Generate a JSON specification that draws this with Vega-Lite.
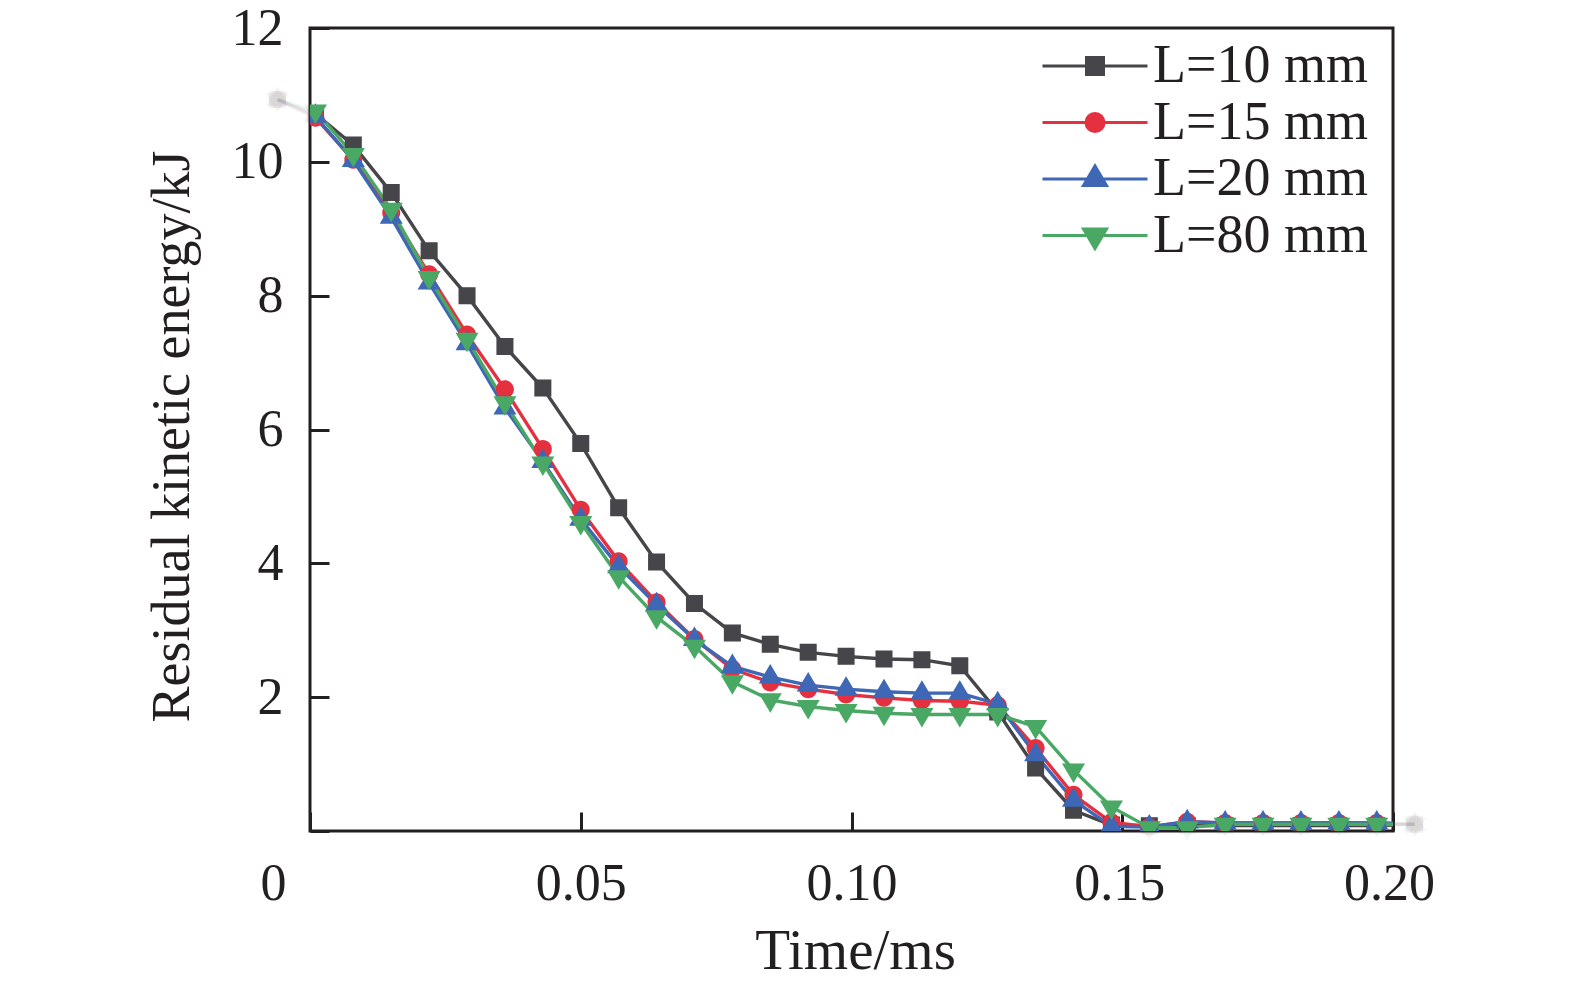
{
  "$schema": "https://vega.github.io/schema/vega-lite/v6.json",
  "width": 1083,
  "height": 803,
  "autosize": {"type": "none"},
  "padding": {"left": 310, "top": 28, "right": 182, "bottom": 157},
  "background": "white",
  "config": {
    "view": {"stroke": "#231f20", "strokeWidth": 3},
    "font": "Liberation Serif",
    "axis": {
      "labelFont": "Liberation Serif",
      "titleFont": "Liberation Serif",
      "labelFontSize": 52,
      "titleFontSize": 54,
      "titleFontWeight": "normal",
      "labelColor": "#231f20",
      "titleColor": "#231f20",
      "domain": false,
      "grid": false,
      "tickColor": "#231f20",
      "tickWidth": 3,
      "tickSize": -19,
      "labelPadding": 46
    },
    "legend": {
      "orient": "none",
      "legendX": 758,
      "legendY": 11,
      "padding": 0,
      "symbolSize": 400,
      "symbolStrokeWidth": 3,
      "symbolOpacity": 1,
      "labelOffset": 31,
      "rowPadding": 2.5,
      "labelLimit": 600,
      "labelFont": "Liberation Serif",
      "labelFontSize": 54,
      "labelColor": "#231f20",
      "labelBaseline": "middle"
    }
  },
  "data": {
    "values": [
      {"t": -0.006, "L10": 10.93, "L15": 10.93, "L20": 10.93, "L80": 10.93},
      {"t": 0.001, "L10": 10.72, "L15": 10.66, "L20": 10.68, "L80": 10.76},
      {"t": 0.008, "L10": 10.25, "L15": 10.03, "L20": 10.02, "L80": 10.11},
      {"t": 0.015, "L10": 9.54, "L15": 9.24, "L20": 9.17, "L80": 9.29},
      {"t": 0.022, "L10": 8.67, "L15": 8.32, "L20": 8.19, "L80": 8.27},
      {"t": 0.029, "L10": 8.0, "L15": 7.42, "L20": 7.28, "L80": 7.35},
      {"t": 0.036, "L10": 7.24, "L15": 6.6, "L20": 6.32, "L80": 6.4},
      {"t": 0.043, "L10": 6.62, "L15": 5.71, "L20": 5.52, "L80": 5.5},
      {"t": 0.05, "L10": 5.79, "L15": 4.8, "L20": 4.66, "L80": 4.61},
      {"t": 0.057, "L10": 4.83, "L15": 4.03, "L20": 3.95, "L80": 3.8},
      {"t": 0.064, "L10": 4.02, "L15": 3.42, "L20": 3.38, "L80": 3.2},
      {"t": 0.071, "L10": 3.4, "L15": 2.87, "L20": 2.86, "L80": 2.76},
      {"t": 0.078, "L10": 2.96, "L15": 2.42, "L20": 2.46, "L80": 2.23},
      {"t": 0.085, "L10": 2.79, "L15": 2.22, "L20": 2.3, "L80": 1.96},
      {"t": 0.092, "L10": 2.67, "L15": 2.12, "L20": 2.18, "L80": 1.86},
      {"t": 0.099, "L10": 2.61, "L15": 2.04, "L20": 2.12, "L80": 1.8},
      {"t": 0.106, "L10": 2.57, "L15": 1.99, "L20": 2.08, "L80": 1.76},
      {"t": 0.113, "L10": 2.56, "L15": 1.95, "L20": 2.06, "L80": 1.74},
      {"t": 0.12, "L10": 2.47, "L15": 1.94, "L20": 2.06, "L80": 1.74},
      {"t": 0.127, "L10": 1.78, "L15": 1.88, "L20": 1.9, "L80": 1.74},
      {"t": 0.134, "L10": 0.94, "L15": 1.24, "L20": 1.14, "L80": 1.56},
      {"t": 0.141, "L10": 0.31, "L15": 0.54, "L20": 0.46, "L80": 0.91},
      {"t": 0.148, "L10": 0.09, "L15": 0.13, "L20": 0.07, "L80": 0.36},
      {"t": 0.155, "L10": 0.08, "L15": 0.06, "L20": 0.06, "L80": 0.05},
      {"t": 0.162, "L10": 0.08, "L15": 0.14, "L20": 0.14, "L80": 0.05},
      {"t": 0.169, "L10": 0.08, "L15": 0.12, "L20": 0.12, "L80": 0.1},
      {"t": 0.176, "L10": 0.08, "L15": 0.12, "L20": 0.12, "L80": 0.1},
      {"t": 0.183, "L10": 0.08, "L15": 0.12, "L20": 0.12, "L80": 0.1},
      {"t": 0.19, "L10": 0.08, "L15": 0.12, "L20": 0.12, "L80": 0.1},
      {"t": 0.197, "L10": 0.08, "L15": 0.12, "L20": 0.12, "L80": 0.1},
      {"t": 0.204, "L10": 0.1, "L15": 0.1, "L20": 0.1, "L80": 0.1}
    ]
  },
  "transform": [
    {"fold": ["L10", "L15", "L20", "L80"], "as": ["series", "E"]}
  ],
  "encoding": {
    "x": {
      "field": "t",
      "type": "quantitative",
      "scale": {"domain": [0, 0.2], "nice": false, "zero": false},
      "axis": {
        "title": "Time/ms",
        "titleFontSize": 57,
        "titleX": 545,
        "values": [0, 0.05, 0.1, 0.15, 0.2],
        "labelFlush": false,
        "labelExpr": "datum.value == 0 ? '0' : format(datum.value, '.2f')",
        "labelOffset": {
          "condition": [
            {"test": "datum.value == 0", "value": -37},
            {"test": "datum.value > 0.17", "value": -4},
            {"test": "datum.value > 0.12", "value": -3}
          ],
          "value": 0
        },
        "titleBaseline": "alphabetic",
        "titleY": 137
      }
    },
    "y": {
      "field": "E",
      "type": "quantitative",
      "scale": {"domain": [0, 12], "nice": false},
      "axis": {
        "title": "Residual kinetic energy/kJ",
        "values": [0, 2, 4, 6, 8, 10, 12],
        "labelExpr": "datum.value == 0 ? '' : datum.value",
        "titleBaseline": "alphabetic",
        "titleX": -122,
        "titleY": 408
      }
    },
    "stroke": {
      "field": "series",
      "type": "nominal",
      "scale": {
        "domain": ["L10", "L15", "L20", "L80"],
        "range": ["#46464a", "#e5303f", "#3e67b5", "#4aa865"]
      },
      "legend": {"title": null, "labelExpr": "'L=' + slice(datum.label, 1) + ' mm'"}
    }
  },
  "layer": [
    {
      "mark": {"type": "line", "strokeWidth": 3.4, "clip": false, "opacity": 0.07}
    },
    {
      "mark": {"type": "point", "filled": true, "size": 400, "strokeWidth": 0, "clip": false, "opacity": 0.07},
      "encoding": {
        "fill": {
          "field": "series",
          "type": "nominal",
          "scale": {
            "domain": ["L10", "L15", "L20", "L80"],
            "range": ["#46464a", "#e5303f", "#3e67b5", "#4aa865"]
          },
          "legend": {"title": null, "labelExpr": "'L=' + slice(datum.label, 1) + ' mm'"}
        },
        "shape": {
          "field": "series",
          "type": "nominal",
          "scale": {
            "domain": ["L10", "L15", "L20", "L80"],
            "range": [
              "M-5.25,0H5.25M-0.85,-0.85H0.85V0.85H-0.85Z",
              "M-5.25,0H5.25M0.9,0A0.9,0.9 0 1,1 -0.9,0A0.9,0.9 0 1,1 0.9,0Z",
              "M-5.25,0H5.25M0,-1.3L1.15,0.65L-1.15,0.65Z",
              "M-5.25,0H5.25M0,1.3L1.15,-0.65L-1.15,-0.65Z"
            ]
          },
          "legend": {"title": null, "labelExpr": "'L=' + slice(datum.label, 1) + ' mm'"}
        }
      }
    },
    {
      "mark": {"type": "line", "strokeWidth": 3.4, "clip": true}
    },
    {
      "mark": {"type": "point", "filled": true, "size": 400, "strokeWidth": 0, "clip": true, "opacity": 1},
      "encoding": {
        "fill": {
          "field": "series",
          "type": "nominal",
          "scale": {
            "domain": ["L10", "L15", "L20", "L80"],
            "range": ["#46464a", "#e5303f", "#3e67b5", "#4aa865"]
          },
          "legend": {"title": null, "labelExpr": "'L=' + slice(datum.label, 1) + ' mm'"}
        },
        "shape": {
          "field": "series",
          "type": "nominal",
          "scale": {
            "domain": ["L10", "L15", "L20", "L80"],
            "range": [
              "M-5.25,0H5.25M-0.85,-0.85H0.85V0.85H-0.85Z",
              "M-5.25,0H5.25M0.9,0A0.9,0.9 0 1,1 -0.9,0A0.9,0.9 0 1,1 0.9,0Z",
              "M-5.25,0H5.25M0,-1.3L1.15,0.65L-1.15,0.65Z",
              "M-5.25,0H5.25M0,1.3L1.15,-0.65L-1.15,-0.65Z"
            ]
          },
          "legend": {"title": null, "labelExpr": "'L=' + slice(datum.label, 1) + ' mm'"}
        }
      }
    }
  ]
}
